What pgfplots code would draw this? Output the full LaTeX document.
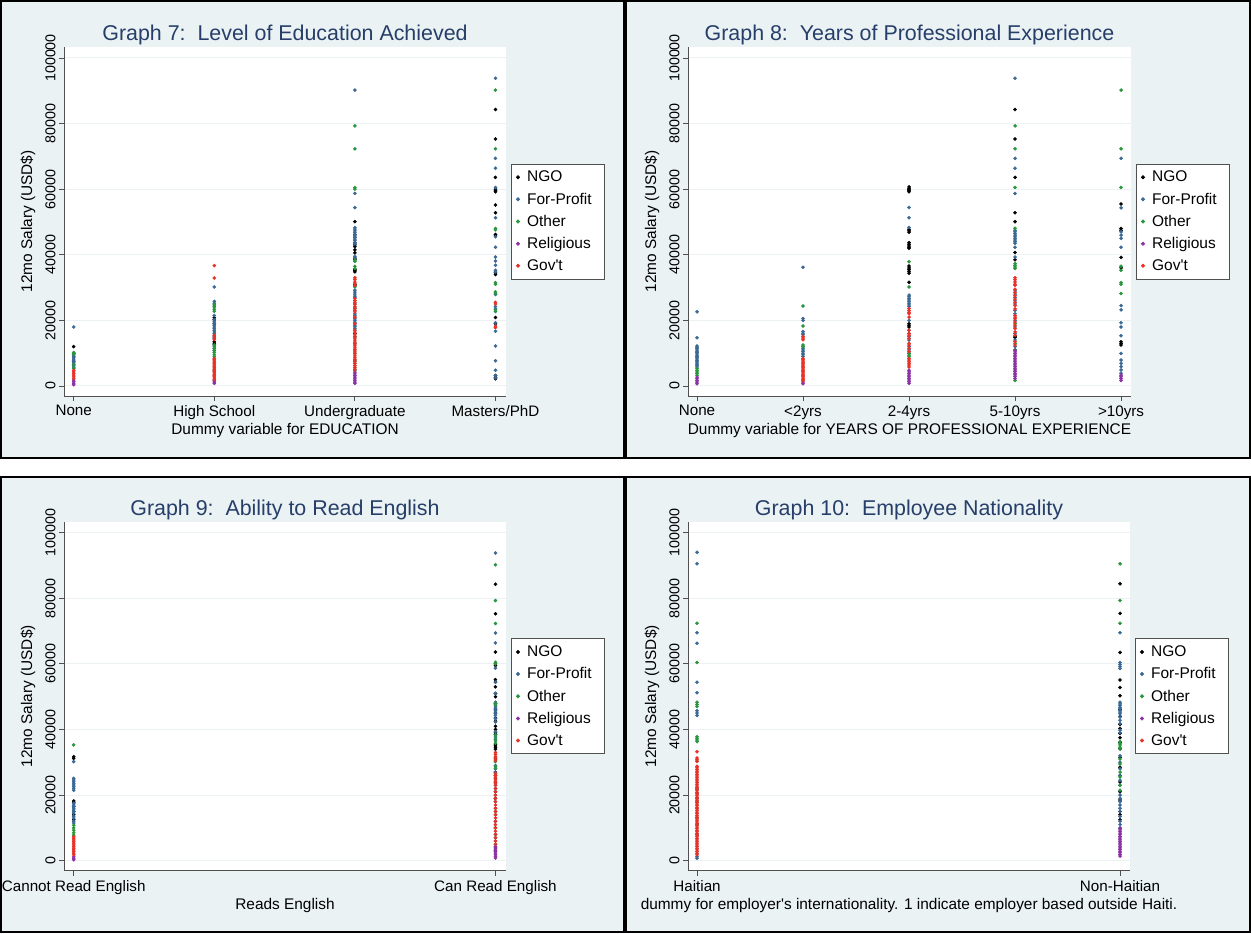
\documentclass[border=0pt]{standalone}
\usepackage{fontspec}
\setmainfont{Liberation Sans}
\usepackage{pgfplots}
\pgfplotsset{compat=1.18}

\definecolor{bgpanel}{RGB}{234,242,243}
\definecolor{ttl}{RGB}{38,62,105}
\definecolor{cngo}{RGB}{0,0,0}
\definecolor{cfp}{RGB}{58,105,150}
\definecolor{coth}{RGB}{40,150,60}
\definecolor{crel}{RGB}{140,50,165}
\definecolor{cgov}{RGB}{232,50,40}
\definecolor{gridc}{RGB}{236,241,243}
\definecolor{axc}{RGB}{80,80,80}

\pgfplotsset{
  panel/.style={
    scale only axis, height=349pt,
    axis lines=left, axis line style={-, axc, line width=0.9pt},
    ymin=-3049, ymax=103350, scaled y ticks=false,
    ytick={0,20000,40000,60000,80000,100000},
    yticklabels={0,20000,40000,60000,80000,100000},
    yticklabel style={rotate=90, anchor=south, font=\fontsize{14.3}{16}\selectfont},
    xticklabel style={font=\fontsize{15.2}{17}\selectfont, yshift=-1pt},
    tick align=outside, major tick length=5pt, tick style={axc, line width=0.8pt},
    ymajorgrids, grid style={gridc, line width=1pt},
    axis background/.style={fill=white},
    title style={font=\fontsize{21.4}{24}\selectfont, text=ttl, anchor=center, yshift=0pt, at={(axis description cs:0.5,1.017)}},
    xlabel style={font=\fontsize{15.4}{18}\selectfont, anchor=center, at={(axis description cs:0.5,-0.1003)}},
    ylabel style={font=\fontsize{15.4}{18}\selectfont, anchor=center, at={(axis description cs:-0.0814,0.5)}},
    ylabel={12mo Salary (USD\$)},
    legend style={at={(axis description cs:1.0113,0.5)}, anchor=west,
      font=\fontsize{15.5}{18}\selectfont, draw=axc, line width=0.8pt, fill=white,
      row sep=5.5pt, inner xsep=5pt, inner ysep=5pt,
      nodes={inner xsep=7.5pt}},
    legend cell align=left,
    legend image code/.code={\draw[mark repeat=2,mark phase=2,#1] plot coordinates {(0pt,0pt) (3pt,0pt) (6pt,0pt)};},
  },
  sNGO/.style={only marks, mark=*, mark size=1.6pt, color=cngo},
  sFP/.style={only marks, mark=*, mark size=1.6pt, color=cfp},
  sOTH/.style={only marks, mark=*, mark size=1.6pt, color=coth},
  sREL/.style={only marks, mark=*, mark size=1.6pt, color=crel},
  sGOV/.style={only marks, mark=*, mark size=1.6pt, color=cgov},
}

\begin{document}
\begin{tikzpicture}
\useasboundingbox (0pt,0pt) rectangle (1251pt,934pt);
\fill[white] (0pt,0pt) rectangle (1251pt,934pt);
% panel backgrounds
\fill[bgpanel] (1pt,476pt) rectangle (624pt,933pt);
\fill[bgpanel] (626pt,476pt) rectangle (1250pt,933pt);
\fill[bgpanel] (1pt,2pt) rectangle (624pt,457pt);
\fill[bgpanel] (626pt,2pt) rectangle (1250pt,457pt);
\draw[black, line width=1.5pt] (1pt,476pt) rectangle (624pt,933pt);
\draw[black, line width=1.5pt] (626pt,476pt) rectangle (1250pt,933pt);
\draw[black, line width=1.5pt] (1pt,2pt) rectangle (624pt,457pt);
\draw[black, line width=1.5pt] (626pt,2pt) rectangle (1250pt,457pt);

% ---------------- Graph 7 ----------------
\begin{axis}[panel, at={(64pt,538pt)}, anchor=south west, width=442pt,
  xmin=-0.069, xmax=3.075, xtick={0,1,2,3},
  xticklabels={None,High School,Undergraduate,Masters/PhD},
  title={Graph 7:~~Level of Education Achieved},
  xlabel={Dummy variable for EDUCATION}]
\addplot[sNGO] coordinates {(0,12000) (0,9800) (0,7500)
 (1,20800) (1,20200) (1,19000) (1,13500) (1,13000) (1,12600)
 (2,50100) (2,46100) (2,45300) (2,43600) (2,43000) (2,42500) (2,41500) (2,40600) (2,39000) (2,38600) (2,35500) (2,35200) (2,34800) (2,31000) (2,30500) (2,19000) (2,16000)
 (3,84300) (3,75300) (3,63600) (3,60000) (3,59500) (3,59200) (3,55200) (3,52800) (3,46200) (3,46000) (3,34500) (3,34000) (3,20900) (3,19000) (3,3200) (3,2600) (3,2200)};
\addplot[sFP] coordinates {(0,18000) (0,9800) (0,9400) (0,9000) (0,8600) (0,8200) (0,7800) (0,7400) (0,7000) (0,6600) (0,6200) (0,5800) (0,5400)
 (1,30200) (1,25800) (1,25200) (1,24400) (1,21500) (1,20200) (1,19600) (1,19000) (1,18500) (1,18000) (1,17500) (1,17000) (1,16500) (1,16000) (1,15500) (1,15000) (1,14500) (1,11500) (1,10800)
 (2,90200) (2,58700) (2,54400) (2,48300) (2,47800) (2,47300) (2,46800) (2,46300) (2,45800) (2,45300) (2,44800) (2,44300) (2,43800) (2,43300) (2,39500) (2,39000) (2,29200) (2,28600) (2,28000) (2,27400) (2,27000) (2,25000) (2,23500) (2,22000) (2,21500) (2,21000) (2,20500) (2,20000) (2,19500) (2,19000) (2,18500) (2,18000) (2,17500) (2,17000) (2,15000) (2,13000) (2,11000)
 (3,93800) (3,69400) (3,66400) (3,60500) (3,51300) (3,45500) (3,42300) (3,39300) (3,38100) (3,36800) (3,35300) (3,34800) (3,27900) (3,24200) (3,23500) (3,19300) (3,16700) (3,12200) (3,7700) (3,4800) (3,3200) (3,2500)};
\addplot[sOTH] coordinates {(0,10200) (0,9900) (0,9700) (0,6500) (0,5500)
 (1,24800) (1,24100) (1,23400) (1,22800) (1,12500) (1,12000) (1,11400) (1,10800) (1,10200) (1,9500) (1,8900) (1,5000)
 (2,79300) (2,72300) (2,60500) (2,60000) (2,38400) (2,38000) (2,36500) (2,35800) (2,30200) (2,26000) (2,23800) (2,15000) (2,10000) (2,7800) (2,7000) (2,6200) (2,5500) (2,4800)
 (3,90200) (3,72300) (3,48000) (3,47600) (3,31500) (3,31000) (3,28700) (3,28200) (3,23200) (3,22700)};
\addplot[sREL] coordinates {(0,1800) (0,1300) (0,800) (0,400)
 (1,1600) (1,1200) (1,800)
 (2,4200) (2,3700) (2,3200) (2,2700) (2,2200) (2,1700) (2,1200) (2,800)};
\addplot[sGOV] coordinates {(0,4800) (0,4300) (0,3800) (0,3300) (0,2800) (0,2300)
 (1,36700) (1,32900) (1,15400) (1,14800) (1,14200) (1,8400) (1,8000) (1,7600) (1,7200) (1,6800) (1,6400) (1,6000) (1,5600) (1,5200) (1,4800) (1,4400) (1,4000) (1,3600) (1,3200) (1,2800) (1,2400) (1,2000)
 (2,33000) (2,32400) (2,31700) (2,31100) (2,30700) (2,26600) (2,26000) (2,25400) (2,24800) (2,24200) (2,23600) (2,23000) (2,22600) (2,21000) (2,19000) (2,17000) (2,16400) (2,15800) (2,15200) (2,14600) (2,14000) (2,13400) (2,12800) (2,12200) (2,11600) (2,11000) (2,10400) (2,9800) (2,9200) (2,8600) (2,8000) (2,7400) (2,6800) (2,6200) (2,5600) (2,5000)
 (3,25500) (3,25000) (3,18200) (3,17800)};
\legend{NGO,For-Profit,Other,Religious,Gov\textquotesingle t}
\end{axis}

% ---------------- Graph 8 ----------------
\begin{axis}[panel, at={(688pt,538pt)}, anchor=south west, width=443pt,
  xmin=-0.085, xmax=4.094, xtick={0,1,2,3,4},
  xticklabels={None,<2yrs,2-4yrs,5-10yrs,>10yrs},
  title={Graph 8:~~Years of Professional Experience},
  xlabel={Dummy variable for YEARS OF PROFESSIONAL EXPERIENCE}]
\addplot[sNGO] coordinates {
 (2,60700) (2,60300) (2,60000) (2,59600) (2,59200) (2,47800) (2,47300) (2,46900) (2,43700) (2,43200) (2,42700) (2,42300) (2,42000) (2,36600) (2,36000) (2,35500) (2,35000) (2,34400) (2,31600) (2,19000) (2,18500) (2,18000) (2,10000)
 (3,84300) (3,75300) (3,63600) (3,52800) (3,50100) (3,40700) (3,38500) (3,14800) (3,15200)
 (4,55500) (4,48000) (4,47500) (4,39200) (4,36000) (4,13500) (4,13000) (4,12500)};
\addplot[sFP] coordinates {(0,22600) (0,14700) (0,12200) (0,11800) (0,11400) (0,11000) (0,10600) (0,10200) (0,9800) (0,9400) (0,9000) (0,8600) (0,8200) (0,7800) (0,7400) (0,7000) (0,6600) (0,6200) (0,5800)
 (1,36200) (1,20600) (1,20000) (1,16600) (1,16100) (1,15600) (1,12000) (1,11500) (1,11000) (1,10500) (1,10000) (1,9500) (1,9000)
 (2,54400) (2,51300) (2,48300) (2,27700) (2,27200) (2,26700) (2,26200) (2,25700) (2,25200) (2,24700) (2,24200) (2,20000) (2,17000) (2,16000) (2,15000) (2,14000) (2,12000) (2,11000)
 (3,93800) (3,69400) (3,66400) (3,58700) (3,47500) (3,47000) (3,46500) (3,46000) (3,45500) (3,45000) (3,44500) (3,44000) (3,43500) (3,42300) (3,39300) (3,29000) (3,28000) (3,27000) (3,26000) (3,25000) (3,23000) (3,22000) (3,20000) (3,18000) (3,16000) (3,14000) (3,12000) (3,11000)
 (4,69400) (4,54300) (4,47000) (4,46000) (4,45000) (4,42300) (4,24500) (4,23200) (4,19300) (4,18000) (4,15300) (4,9900) (4,7900) (4,6900) (4,5900) (4,4900) (4,3900)};
\addplot[sOTH] coordinates {(0,5300) (0,4800) (0,4300) (0,3800) (0,3300)
 (1,24400) (1,18300) (1,12500) (1,12000)
 (2,37900) (2,30200) (2,10000) (2,9400) (2,8900)
 (3,79300) (3,72300) (3,60500) (3,48100) (3,37300) (3,36800) (3,36300) (3,35800) (3,19000) (3,13000) (3,11000) (3,1700)
 (4,90200) (4,72300) (4,60500) (4,36500) (4,35300) (4,31500) (4,31000) (4,28200)};
\addplot[sREL] coordinates {(0,2700) (0,2200) (0,1700) (0,1200) (0,700)
 (1,1200) (1,700)
 (2,4800) (2,4300) (2,3800) (2,3300) (2,2800) (2,2300) (2,1800) (2,1300) (2,800)
 (3,10900) (3,10400) (3,9900) (3,9400) (3,8900) (3,8400) (3,7900) (3,7400) (3,6900) (3,6400) (3,5900) (3,5400) (3,4900) (3,4400) (3,3900) (3,3400) (3,2900) (3,2300)
 (4,3300) (4,2800) (4,2300) (4,1700)};
\addplot[sGOV] coordinates {
 (1,15100) (1,14600) (1,14100) (1,8400) (1,8000) (1,7600) (1,7200) (1,6800) (1,6400) (1,6000) (1,5600) (1,5200) (1,4800) (1,4400) (1,4000) (1,3600) (1,3200) (1,2800) (1,2400) (1,2000) (1,1600)
 (2,23600) (2,23000) (2,22500) (2,22000) (2,21000) (2,17000) (2,16000) (2,15500) (2,14500) (2,13000) (2,12500) (2,11500) (2,10500) (2,8400) (2,7900) (2,7400) (2,6900) (2,6400) (2,5800)
 (3,33000) (3,32400) (3,31700) (3,31000) (3,30700) (3,29500) (3,28500) (3,27500) (3,26500) (3,25500) (3,24500) (3,23500) (3,21500) (3,21000) (3,20500) (3,19500) (3,18500) (3,17500) (3,16500) (3,15500) (3,13500) (3,12500)};
\legend{NGO,For-Profit,Other,Religious,Gov\textquotesingle t}
\end{axis}

% ---------------- Graph 9 ----------------
\begin{axis}[panel, at={(64pt,63.3pt)}, anchor=south west, width=442pt,
  xmin=-0.023, xmax=1.025, xtick={0,1},
  xticklabels={Cannot Read English,Can Read English},
  title={Graph 9:~~Ability to Read English},
  xlabel={Reads English}]
\addplot[sNGO] coordinates {(0,31700) (0,31200) (0,18200) (0,17800) (0,16500) (0,15000) (0,14000) (0,12500)
 (1,84300) (1,75300) (1,63600) (1,60000) (1,59500) (1,55200) (1,54500) (1,53000) (1,51000) (1,50000) (1,48000) (1,46000) (1,45000) (1,43500) (1,42500) (1,41000) (1,40000) (1,39000) (1,38500) (1,35500) (1,35000) (1,34500) (1,34000) (1,31000) (1,27000) (1,21000) (1,19000) (1,3000)};
\addplot[sFP] coordinates {(0,30200) (0,25100) (0,24600) (0,24100) (0,23600) (0,23100) (0,22600) (0,22100) (0,21500) (0,17500) (0,17000) (0,16500) (0,16000) (0,15500) (0,15000) (0,14500) (0,13500) (0,13000) (0,12000) (0,11500)
 (1,93800) (1,69400) (1,66400) (1,58700) (1,54400) (1,51000) (1,48300) (1,47800) (1,47300) (1,46800) (1,46300) (1,45800) (1,45300) (1,44800) (1,44300) (1,43300) (1,42300) (1,39300) (1,38000) (1,37000) (1,29000) (1,28000) (1,27000) (1,26000) (1,25000) (1,24000) (1,23000) (1,22000) (1,20000) (1,18000) (1,16000) (1,14000) (1,12000) (1,10000) (1,8000) (1,6000) (1,4000)};
\addplot[sOTH] coordinates {(0,35300) (0,10800) (0,10000) (0,9300) (0,8500) (0,7800)
 (1,90200) (1,79300) (1,72300) (1,60500) (1,60000) (1,48000) (1,47500) (1,38400) (1,37500) (1,36500) (1,35800) (1,31500) (1,30200) (1,28700) (1,28200) (1,26000) (1,23800) (1,15000) (1,10000) (1,7000) (1,5000)};
\addplot[sREL] coordinates {(0,1200) (0,700) (0,300)
 (1,4300) (1,3800) (1,3300) (1,2800) (1,2300) (1,1800) (1,1300) (1,800)};
\addplot[sGOV] coordinates {(0,7300) (0,6800) (0,6300) (0,5800) (0,5300) (0,4800) (0,4300) (0,3800) (0,3300) (0,2800) (0,2300) (0,1800)
 (1,33000) (1,32400) (1,31700) (1,31100) (1,30500) (1,26600) (1,26000) (1,25400) (1,24800) (1,24200) (1,23600) (1,23000) (1,22000) (1,21000) (1,20000) (1,19000) (1,18000) (1,17000) (1,16000) (1,15000) (1,14000) (1,13000) (1,12000) (1,11000) (1,10000) (1,9000) (1,8000) (1,7000) (1,6000) (1,5000)};
\legend{NGO,For-Profit,Other,Religious,Gov\textquotesingle t}
\end{axis}

% ---------------- Graph 10 ----------------
\begin{axis}[panel, at={(688pt,63.3pt)}, anchor=south west, width=442pt,
  xmin=-0.0213, xmax=1.0236, xtick={0,1},
  xticklabels={Haitian,Non-Haitian},
  title={Graph 10:~~Employee Nationality},
  xlabel={dummy for employer\textquotesingle s internationality. 1 indicate employer based outside Haiti.}]
\addplot[sNGO] coordinates {
 (1,84400) (1,75400) (1,63500) (1,55100) (1,52800) (1,50300) (1,46000) (1,44000) (1,41500) (1,40300) (1,38800) (1,37500) (1,36000) (1,34100) (1,31500) (1,28500) (1,26000) (1,24000) (1,21000) (1,18500) (1,15000) (1,14000) (1,12500)};
\addplot[sFP] coordinates {(0,94000) (0,90500) (0,69500) (0,66300) (0,54400) (0,51200) (0,45700) (0,45000) (0,44300) (0,22000) (0,20600) (0,19000) (0,16000) (0,13000) (0,8000) (0,1200) (0,750)
 (1,69500) (1,60400) (1,59800) (1,59200) (1,58600) (1,48300) (1,47800) (1,47300) (1,46800) (1,46300) (1,45800) (1,45300) (1,44800) (1,43800) (1,42800) (1,41800) (1,39800) (1,39000) (1,32000) (1,30000) (1,28000) (1,26000) (1,24500) (1,23000) (1,20000) (1,19000) (1,18000) (1,17000) (1,16000) (1,15000) (1,13500) (1,12000) (1,11000) (1,10000)};
\addplot[sOTH] coordinates {(0,72400) (0,60400) (0,48300) (0,47600) (0,47000) (0,37800) (0,37300) (0,36800) (0,36300) (0,30300) (0,18000) (0,12900) (0,11000)
 (1,90500) (1,79300) (1,72400) (1,36300) (1,35800) (1,35300) (1,34600) (1,34100) (1,31000) (1,29500) (1,27000) (1,25500) (1,23000) (1,21500)};
\addplot[sREL] coordinates {
 (1,9900) (1,9400) (1,8900) (1,8400) (1,7900) (1,7400) (1,6900) (1,6400) (1,5900) (1,5400) (1,4900) (1,4400) (1,3900) (1,3400) (1,2900) (1,2400) (1,1900) (1,1400)};
\addplot[sGOV] coordinates {(0,33200) (0,31300) (0,30800) (0,30300) (0,28800) (0,28300) (0,27800) (0,27300) (0,26800) (0,26300) (0,25800) (0,25300) (0,24800) (0,24300) (0,23800) (0,23300) (0,22800) (0,22300) (0,21800) (0,21300) (0,20800) (0,20300) (0,19800) (0,19300) (0,18800) (0,18300) (0,17800) (0,17300) (0,16800) (0,16300) (0,15800) (0,15300) (0,14800) (0,14300) (0,13800) (0,13300) (0,12800) (0,12300) (0,11800) (0,11300) (0,10800) (0,10300) (0,9800) (0,9300) (0,8800) (0,8300) (0,7800) (0,7300) (0,6800) (0,6300) (0,5800) (0,5300) (0,4800) (0,4300) (0,3800) (0,3300) (0,2800) (0,2300) (0,1800)};
\legend{NGO,For-Profit,Other,Religious,Gov\textquotesingle t}
\end{axis}
\end{tikzpicture}
\end{document}
